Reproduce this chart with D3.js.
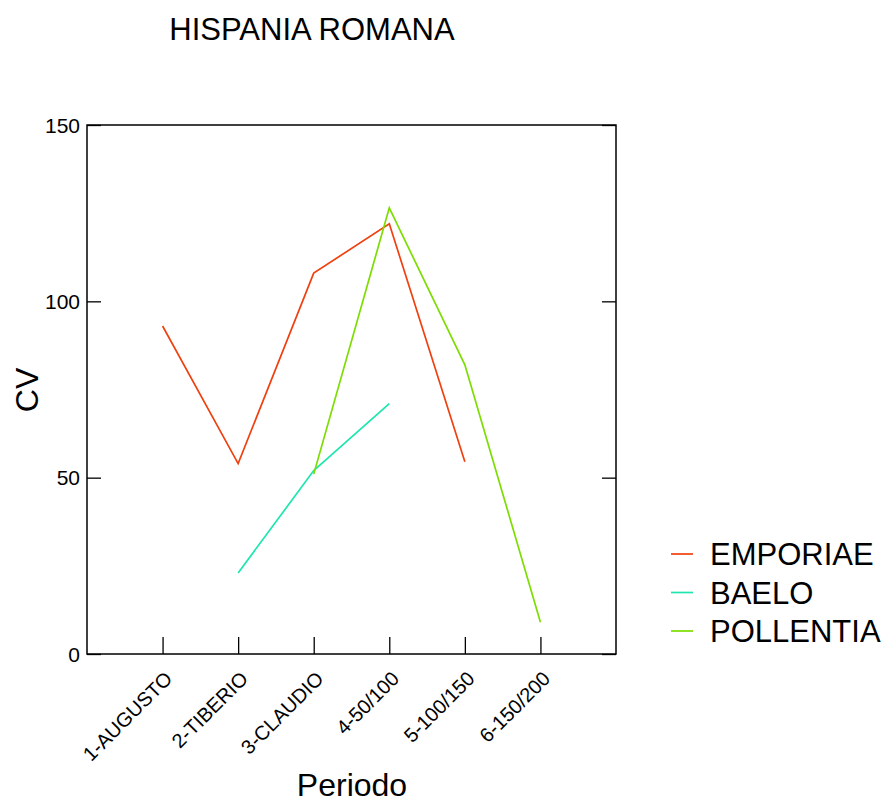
<!DOCTYPE html>
<html>
<head>
<meta charset="utf-8">
<script src="https://cdn.jsdelivr.net/npm/d3@7"></script>
<style>
  body { margin: 0; background: #fff; }
  text { font-family: "Liberation Sans", Arial, sans-serif; fill: #000; }
</style>
</head>
<body>
<script>
var width = 886,
    height = 800;

// data
var periods = ["1-AUGUSTO", "2-TIBERIO", "3-CLAUDIO", "4-50/100", "5-100/150", "6-150/200"];
var emporiae = [93, 54, 108, 122, 54.5, null];
var baelo = [null, 23, 52, 71, null, null];
var pollentia = [null, null, 51, 126.5, 82, 9];
var seriesNames = ["EMPORIAE", "BAELO", "POLLENTIA"];
var seriesColors = ["#f0400f", "#1ee6ae", "#7ddd00"];
var yTicks = [0, 50, 100, 150];

var series = [emporiae, baelo, pollentia];

var svg = d3.select("body").append("svg")
    .attr("width", width)
    .attr("height", height);

var x = d3.scaleLinear()
    .domain([0, 7])
    .range([87, 616]);

var y = d3.scaleLinear()
    .domain([0, 150])
    .range([654, 125]);

// frame
svg.append("rect")
    .attr("x", x(0))
    .attr("y", y(150))
    .attr("width", x(7) - x(0))
    .attr("height", y(0) - y(150))
    .attr("fill", "none")
    .attr("stroke", "black")
    .attr("stroke-width", 1.5);

// left axis, ticks inward
var ga = svg.append("g")
    .attr("transform", "translate(" + x(0) + ",0)")
    .call(d3.axisRight(y).tickValues(yTicks).tickSize(14).tickFormat(""));
ga.select(".domain").remove();
ga.selectAll("line").attr("stroke-width", 1.3);

// right axis ticks inward
var gr = svg.append("g")
    .attr("transform", "translate(" + x(7) + ",0)")
    .call(d3.axisLeft(y).tickValues(yTicks).tickSize(14).tickFormat(""));
gr.select(".domain").remove();
gr.selectAll("line").attr("stroke-width", 1.3);

svg.append("g").selectAll("text")
    .data(yTicks)
    .enter()
    .append("text")
    .attr("x", x(0) - 7)
    .attr("y", function(d){ return y(d) + 7.5; })
    .attr("text-anchor", "end")
    .attr("font-size", 21)
    .text(function(d){ return d; });

// bottom axis, ticks pointing up
var gb = svg.append("g")
    .attr("transform", "translate(0," + y(0) + ")")
    .call(d3.axisTop(x).tickValues(d3.range(1, 7)).tickSize(17).tickFormat(""));
gb.select(".domain").remove();
gb.selectAll("line").attr("stroke-width", 1.3);

svg.append("g").selectAll("text")
    .data(periods)
    .enter()
    .append("text")
    .attr("transform", function(d, i){
        return "translate(" + (x(i + 1) + 11) + "," + (y(0) + 26) + ") rotate(-45)";
    })
    .attr("text-anchor", "end")
    .attr("font-size", 20)
    .text(function(d){ return d; });

// lines
var line = d3.line()
    .defined(function(d){ return d != null; })
    .x(function(d, i){ return x(i + 1); })
    .y(function(d){ return y(d); });

svg.append("g").selectAll("path")
    .data(series)
    .enter()
    .append("path")
    .attr("d", line)
    .attr("fill", "none")
    .attr("stroke", function(d, i){ return seriesColors[i]; })
    .attr("stroke-width", 1.7);

// titles
svg.append("text")
    .attr("x", 312)
    .attr("y", 40)
    .attr("text-anchor", "middle")
    .attr("font-size", 31)
    .text("HISPANIA ROMANA");

svg.append("text")
    .attr("x", 352)
    .attr("y", 796)
    .attr("text-anchor", "middle")
    .attr("font-size", 32)
    .text("Periodo");

svg.append("text")
    .attr("transform", "translate(38,390) rotate(-90)")
    .attr("text-anchor", "middle")
    .attr("font-size", 32)
    .text("CV");

// legend
var leg = svg.append("g").selectAll("g")
    .data(seriesNames)
    .enter()
    .append("g")
    .attr("transform", function(d, i){ return "translate(671," + (554 + i * 38.5) + ")"; });

leg.append("line")
    .attr("x1", 0).attr("x2", 22)
    .attr("stroke", function(d, i){ return seriesColors[i]; })
    .attr("stroke-width", 1.7);

leg.append("text")
    .attr("x", 39)
    .attr("y", 11)
    .attr("font-size", 31)
    .text(function(d){ return d; });
</script>
</body>
</html>
